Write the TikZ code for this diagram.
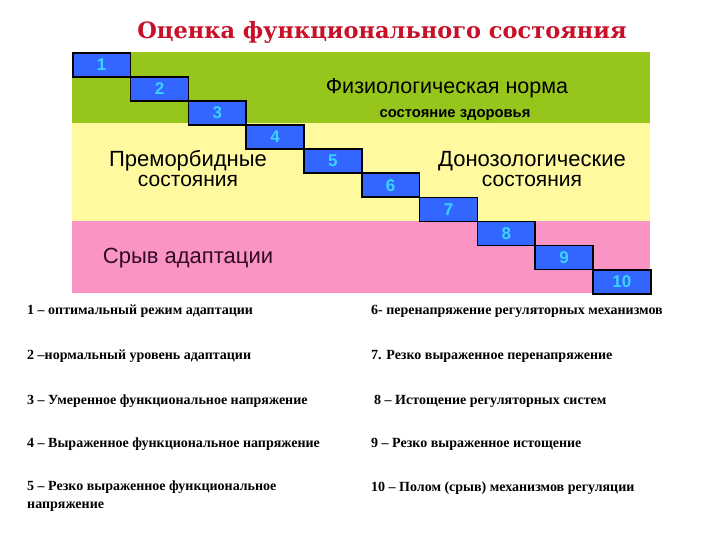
\documentclass[tikz,border=0pt]{standalone}
\usepackage{fontspec}
\setmainfont{Liberation Serif}
\setsansfont{Liberation Sans}
\newfontfamily\titlefont{DejaVu Serif}
\definecolor{bandgreen}{RGB}{150,198,28}
\definecolor{bandyellow}{RGB}{255,250,160}
\definecolor{bandpink}{RGB}{250,148,196}
\definecolor{boxblue}{RGB}{51,102,255}
\definecolor{numcyan}{RGB}{60,210,255}
\definecolor{titlered}{RGB}{200,16,40}
\definecolor{darkpurple}{RGB}{50,10,40}
\begin{document}
\begin{tikzpicture}[x=1pt,y=-1pt,
  numbox/.style={draw=black, line width=1.6pt, fill=boxblue, minimum width=57.8pt, minimum height=24pt, inner sep=0pt, anchor=north west, text=numcyan, font=\sffamily\bfseries\fontsize{17}{17}\selectfont},
  bandlabel/.style={font=\sffamily\fontsize{22}{24}\selectfont, text=black, inner sep=0pt},
  twoline/.style={font=\sffamily\fontsize{21}{20}\selectfont, text=black, inner sep=0pt, align=center},
  legend/.style={font=\bfseries\fontsize{14}{18}\selectfont, anchor=west, inner sep=0pt, align=left}
]
\useasboundingbox (0,0) rectangle (720,540);
\fill[white] (0,0) rectangle (720,540);
% bands
\fill[bandgreen] (72,52) rectangle (650,123);
\fill[bandyellow] (72,123) rectangle (650,221);
\fill[bandpink] (72,221) rectangle (650,293);
% title
\node[font=\titlefont\bfseries\fontsize{22.5}{26}\selectfont, text=titlered, inner sep=0pt] (title) at (382,32) {Оценка функционального состояния};
% band labels
\node[bandlabel, font=\sffamily\fontsize{21.5}{24}\selectfont] (fizio) at (447,88) {Физиологическая норма};
\node[font=\sffamily\bfseries\fontsize{14.8}{16}\selectfont, inner sep=0pt] (health) at (455,115) {состояние здоровья};
\node[twoline] (premorb) at (188,169) {{\fontsize{22}{20}\selectfont Преморбидные}\\состояния};
\node[twoline] (donoz) at (532,169) {{\fontsize{22}{20}\selectfont Донозологические}\\состояния};
\node[bandlabel, text=darkpurple] (sryv) at (188,258) {Срыв адаптации};
% steps
\foreach \i in {1,...,10}{
  \node[numbox] (b\i) at ({72+57.8*(\i-1)},{52+24.1*(\i-1)}) {\i};
}
% legend
\node[legend] (l1) at (27,311) {1 – оптимальный режим адаптации};
\node[legend] (l2) at (27,356) {2 –нормальный уровень адаптации};
\node[legend] (l3) at (27,401) {3 – Умеренное функциональное напряжение};
\node[legend] (l4) at (27,444) {4 – Выраженное функциональное напряжение};
\node[legend, anchor=north west] (l5) at (27,481) {5 – Резко выраженное функциональное\\напряжение};
\node[legend] (l6) at (371,311) {6- перенапряжение регуляторных механизмов};
\node[legend] (l7) at (371,356) {7. Резко выраженное перенапряжение};
\node[legend] (l8) at (374,401) {8 – Истощение регуляторных систем};
\node[legend] (l9) at (371,444) {9 – Резко выраженное истощение};
\node[legend] (l10) at (371,488) {10 – Полом (срыв) механизмов регуляции};
\end{tikzpicture}
\end{document}
